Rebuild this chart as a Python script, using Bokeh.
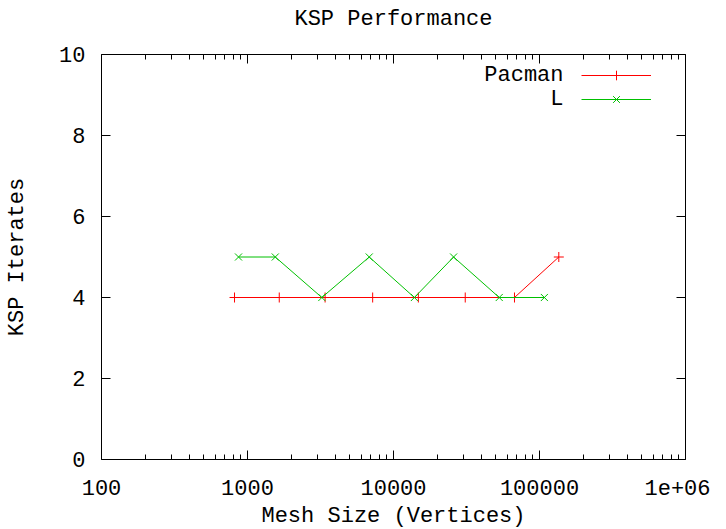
from bokeh.plotting import figure
from bokeh.models import (FixedTicker, LogAxis, LinearAxis, Legend, LegendItem,
                          Label, Range1d)
from bokeh.embed import file_html
from bokeh.resources import INLINE

# ---- data ----
pacman_x = [815, 1650, 3400, 7200, 14800, 31000, 67400, 135600]
pacman_y = [4, 4, 4, 4, 4, 4, 4, 5]
l_x = [868, 1550, 3230, 6820, 13900, 25800, 53000, 108000]
l_y = [5, 5, 4, 5, 4, 5, 4, 4]
x_ticks = [100, 1000, 10000, 100000, 1000000]
x_tick_labels = ["100", "1000", "10000", "100000", "1e+06"]
y_ticks = [0, 2, 4, 6, 8, 10]
series_names = ["Pacman", "L"]
title_text = "KSP Performance"

FONT = "Liberation Mono"
FS = "22px"
FW, FH = 584, 405

x_minor = [m * t for t in x_ticks[:-1] for m in range(2, 10)]

p = figure(frame_width=FW, frame_height=FH, x_axis_type="log",
           x_range=Range1d(100, 1e6), y_range=Range1d(0, 10),
           output_backend="svg", toolbar_location=None,
           min_border_left=101, min_border_right=25, min_border_top=54,
           min_border_bottom=70)

p.xgrid.visible = False
p.ygrid.visible = False
p.outline_line_color = "black"
p.outline_line_width = 1
p.background_fill_color = "white"
p.border_fill_color = "white"

xt = FixedTicker(ticks=x_ticks, minor_ticks=x_minor)
yt = FixedTicker(ticks=y_ticks, minor_ticks=[])
overrides = {t: lab for t, lab in zip(x_ticks, x_tick_labels)}


def style(ax, labels=True):
    ax.axis_line_color = None
    ax.major_tick_in = 9
    ax.major_tick_out = 0
    ax.minor_tick_in = 5
    ax.minor_tick_out = 0
    ax.major_tick_line_color = "black"
    ax.minor_tick_line_color = "black"
    ax.major_label_text_font = FONT
    ax.major_label_text_font_size = FS
    ax.major_label_text_color = "black"
    ax.axis_label_text_font = FONT
    ax.axis_label_text_font_size = FS
    ax.axis_label_text_font_style = "normal"
    ax.axis_label_text_color = "black"
    if not labels:
        ax.major_label_text_font_size = "0px"
        ax.major_label_text_color = None
        ax.major_label_standoff = 0


xa = p.xaxis[0]
xa.ticker = xt
xa.major_label_overrides = overrides
xa.axis_label = "Mesh Size (Vertices)"
style(xa)
xa.major_label_standoff = 20
xa.axis_label_standoff = 6

ya = p.yaxis[0]
ya.ticker = yt
ya.axis_label = "KSP Iterates"
style(ya)
ya.major_label_standoff = 16
ya.axis_label_standoff = 26

# mirrored top axis; its axis label serves as the chart title
top = LogAxis(ticker=xt)
style(top, labels=False)
top.axis_label = title_text
top.axis_label_standoff = 23
p.add_layout(top, "above")
right = LinearAxis(ticker=yt)
style(right, labels=False)
p.add_layout(right, "right")

r1 = p.line(pacman_x, pacman_y, line_color="#ff0000", line_width=1)
s1 = p.scatter(pacman_x, pacman_y, marker="cross", size=10, line_color="#ff0000",
               fill_color=None, line_width=1)
r2 = p.line(l_x, l_y, line_color="#00c000", line_width=1)
s2 = p.scatter(l_x, l_y, marker="x", size=10, line_color="#00c000",
               fill_color=None, line_width=1)

legend = Legend(items=[LegendItem(label=" ", renderers=[r1, s1]),
                       LegendItem(label=" ", renderers=[r2, s2])],
                location=(480, 348), glyph_width=70, glyph_height=24,
                label_width=0, label_standoff=0, label_height=0,
                label_text_font_size="1px", padding=0, margin=0, spacing=0,
                border_line_color=None, background_fill_alpha=0)
p.add_layout(legend)

# legend texts, placed left of the legend glyphs (frame-relative screen units)
for name, yy in zip(series_names, [384, 360]):
    p.add_layout(Label(x=462, y=yy, x_units="screen", y_units="screen", text=name,
                       text_align="right", text_baseline="middle",
                       text_font=FONT, text_font_size=FS, text_color="black"))

open("out.html", "w").write(file_html(p, INLINE))
